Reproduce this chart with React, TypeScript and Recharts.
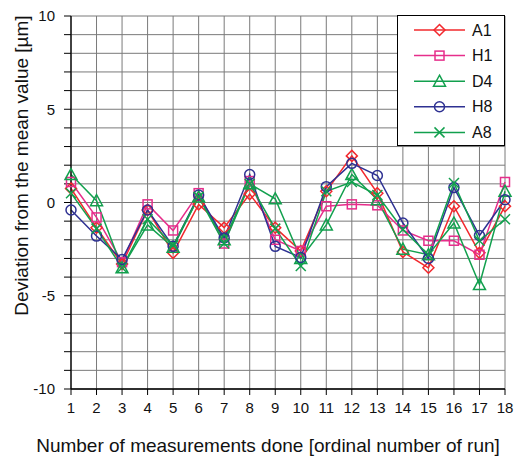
import React from 'react';
import { LineChart, Line, XAxis, YAxis, CartesianGrid, Legend, Label } from 'recharts';

const FONT = '"Liberation Sans", Arial, Helvetica, sans-serif';

const runs = [1, 2, 3, 4, 5, 6, 7, 8, 9, 10, 11, 12, 13, 14, 15, 16, 17, 18];
const A1 = [0.75, -1.35, -3.3, -0.4, -2.7, -0.1, -1.35, 0.45, -1.35, -2.6, 0.6, 2.5, 0.5, -2.65, -3.5, -0.2, -2.7, -0.2];
const H1 = [1.1, -0.8, -3.2, -0.1, -1.5, 0.5, -2.2, 1.15, -2.0, -2.6, -0.2, -0.1, -0.15, -1.5, -2.05, -2.05, -2.8, 1.1];
const D4 = [1.5, 0.1, -3.5, -1.2, -2.4, 0.3, -2.0, 1.0, 0.2, -3.0, -1.2, 1.5, 0.15, -2.5, -2.8, -1.1, -4.4, 0.6];
const H8 = [-0.4, -1.8, -3.05, -0.4, -2.35, 0.4, -1.9, 1.5, -2.35, -2.95, 0.85, 2.1, 1.45, -1.1, -3.0, 0.8, -1.77, 0.15];
const A8 = [0.5, -1.4, -3.5, -0.9, -2.3, 0.3, -2.2, 1.0, -1.4, -3.4, 0.6, 1.1, 0.4, -1.45, -2.8, 1.05, -2.05, -0.9];

const yTicks = [-10, -9, -8, -7, -6, -5, -4, -3, -2, -1, 0, 1, 2, 3, 4, 5, 6, 7, 8, 9, 10];

const series = [
  { key: 'A1', color: '#f2282d', shape: 'diamond' },
  { key: 'H1', color: '#e62e8b', shape: 'square' },
  { key: 'D4', color: '#12a04e', shape: 'triangle' },
  { key: 'H8', color: '#2e3192', shape: 'circle' },
  { key: 'A8', color: '#12a04e', shape: 'cross' },
];

const data = runs.map((r, i) => ({ run: r, A1: A1[i], H1: H1[i], D4: D4[i], H8: H8[i], A8: A8[i] }));

function Marker({ shape, cx, cy, color }: { shape: string; cx: number; cy: number; color: string }) {
  if (cx == null || cy == null) return null;
  const sw = 1.5;
  switch (shape) {
    case 'diamond':
      return <polygon points={`${cx},${cy - 5.5} ${cx + 5.5},${cy} ${cx},${cy + 5.5} ${cx - 5.5},${cy}`} fill="none" stroke={color} strokeWidth={sw} />;
    case 'square':
      return <rect x={cx - 4.5} y={cy - 4.5} width={9} height={9} fill="none" stroke={color} strokeWidth={sw} />;
    case 'triangle':
      return <polygon points={`${cx},${cy - 6} ${cx + 6},${cy + 5} ${cx - 6},${cy + 5}`} fill="none" stroke={color} strokeWidth={sw} />;
    case 'circle':
      return <circle cx={cx} cy={cy} r={5} fill="none" stroke={color} strokeWidth={sw} />;
    case 'cross':
      return (
        <g stroke={color} strokeWidth={sw}>
          <line x1={cx - 5} y1={cy - 5} x2={cx + 5} y2={cy + 5} />
          <line x1={cx - 5} y1={cy + 5} x2={cx + 5} y2={cy - 5} />
        </g>
      );
    default:
      return null;
  }
}

function LegendBox() {
  return (
    <div style={{ width: 108, height: 131, boxSizing: 'border-box', border: '1px solid #000', background: '#fff' }}>
      <svg width={106} height={129}>
        {series.map((s, i) => {
          const y = 14 + i * 25.6;
          return (
            <g key={s.key}>
              <line x1={16} x2={67} y1={y} y2={y} stroke={s.color} strokeWidth={1.5} />
              <Marker shape={s.shape} cx={41.5} cy={y} color={s.color} />
              <text x={74} y={y} dominantBaseline="central" fontFamily={FONT} fontSize={16} fill="#111">{s.key}</text>
            </g>
          );
        })}
      </svg>
    </div>
  );
}

export default function App() {
  return (
    <div style={{ position: 'relative', width: 515, height: 457, background: '#fff' }}>
      <style>{'body{margin:0;}'}</style>
      <LineChart width={515} height={457} data={data} margin={{ top: 16, right: 10, bottom: 0, left: 0 }}>
        <CartesianGrid stroke="#7a7a7a" strokeWidth={1} />
        <XAxis
          dataKey="run"
          type="number"
          domain={[1, 18]}
          ticks={runs}
          interval={0}
          height={68}
          tickSize={6}
          tickMargin={7}
          stroke="#000"
          tick={{ fill: '#111', fontSize: 15, fontFamily: FONT }}
          axisLine={{ stroke: '#000', strokeWidth: 1.3 }}
          tickLine={{ stroke: '#000' }}
        >
          <Label value="Number of measurements done [ordinal number of run]" position="insideBottom" offset={5} dx={-20} style={{ fontSize: 19, fontFamily: FONT, fill: '#111' }} />
        </XAxis>
        <XAxis xAxisId="top" orientation="top" type="number" domain={[1, 18]} tick={false} tickLine={false} height={0} axisLine={{ stroke: '#000', strokeWidth: 1.3 }} />
        <YAxis
          type="number"
          domain={[-10, 10]}
          ticks={yTicks}
          interval={0}
          width={71}
          tickSize={7}
          tickMargin={9}
          tickFormatter={(v: number) => (v % 5 === 0 ? String(v) : '')}
          tick={{ fill: '#111', fontSize: 15, fontFamily: FONT }}
          axisLine={{ stroke: '#000', strokeWidth: 1.3 }}
          tickLine={{ stroke: '#000' }}
        >
          <Label
            content={(props: any) => {
              const vb = props.viewBox || { y: 16, height: 373 };
              const cy = vb.y + vb.height / 2 - 37;
              return (
                <text transform={`translate(21, ${cy}) rotate(-90)`} textAnchor="middle" dominantBaseline="central" fontFamily={FONT} fontSize={19} fill="#111">
                  Deviation from the mean value [µm]
                </text>
              );
            }}
          />
        </YAxis>
        <YAxis yAxisId="right" orientation="right" type="number" domain={[-10, 10]} tick={false} tickLine={false} width={0} axisLine={{ stroke: '#000', strokeWidth: 1.3 }} />
        <Legend
          layout="vertical"
          align="center"
          verticalAlign="middle"
          wrapperStyle={{ position: 'absolute', left: 397, top: 15, width: 108, height: 131 }}
          content={() => <LegendBox />}
        />
        {series.map((s) => (
          <Line
            key={s.key}
            dataKey={s.key}
            stroke={s.color}
            strokeWidth={1.5}
            isAnimationActive={false}
            dot={(p: any) => <Marker key={`${s.key}-${p.index}`} shape={s.shape} cx={p.cx} cy={p.cy} color={s.color} />}
            activeDot={false}
          />
        ))}
      </LineChart>
    </div>
  );
}
